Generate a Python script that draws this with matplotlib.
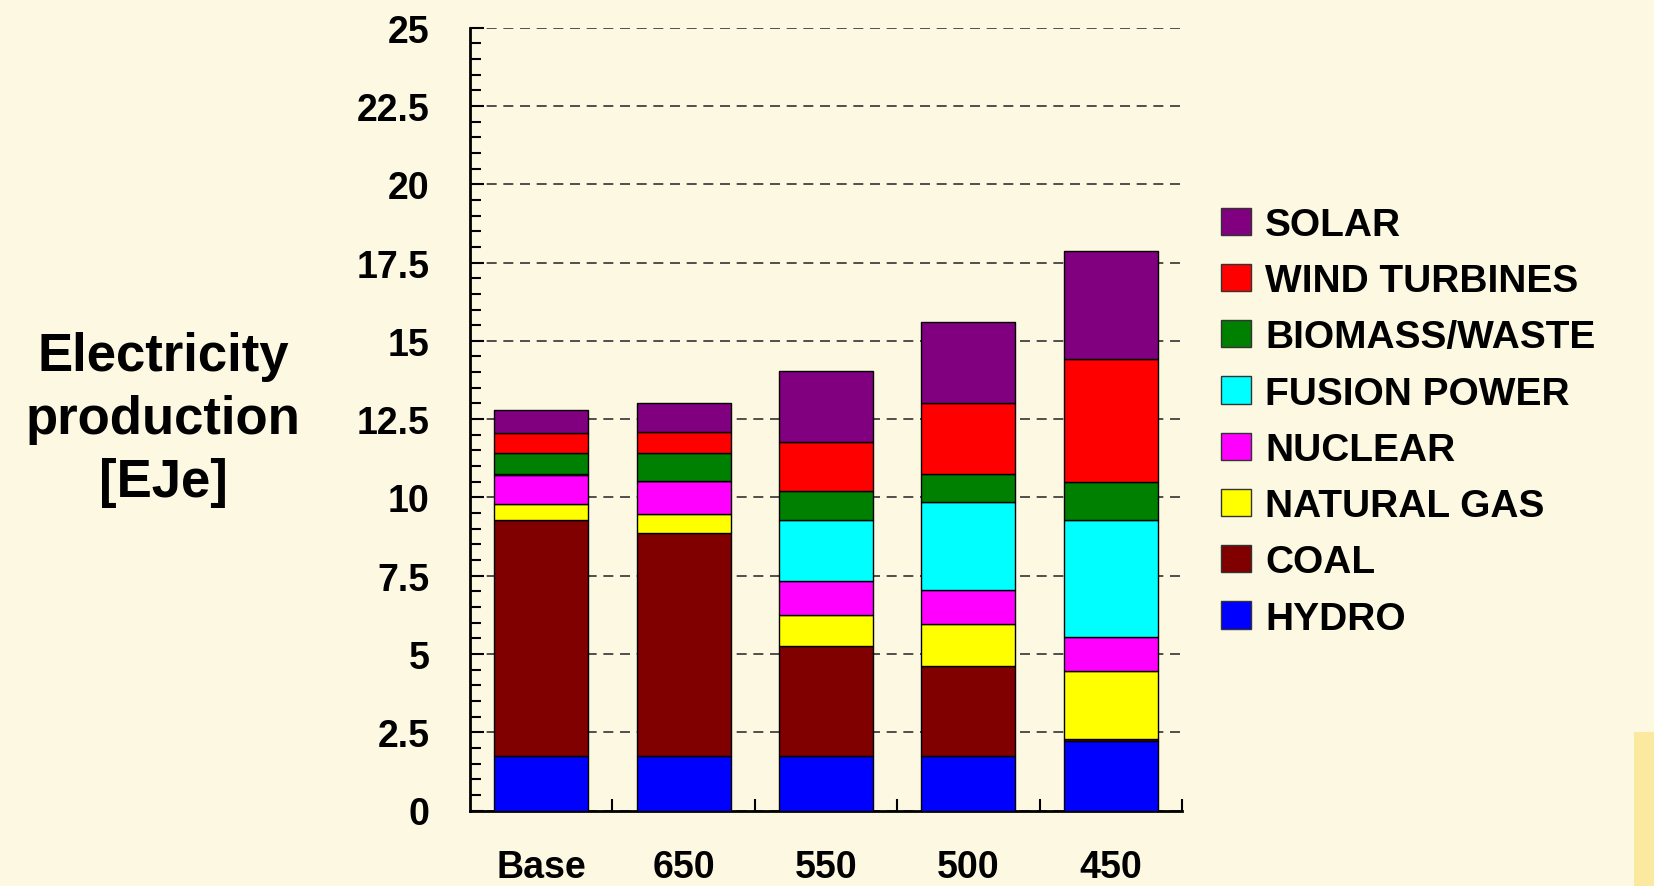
import matplotlib
matplotlib.use("Agg")
import matplotlib.pyplot as plt
from matplotlib.patches import Rectangle, Patch
from matplotlib.ticker import MultipleLocator
import numpy as np

# scenarios and stacked values (EJe), bottom to top
scenarios = ["Base", "650", "550", "500", "450"]
hydro = [1.75, 1.75, 1.75, 1.75, 2.22]
coal = [7.54, 7.10, 3.50, 2.88, 0.06]
natural_gas = [0.51, 0.61, 1.00, 1.34, 2.17]
nuclear = [0.90, 1.07, 1.07, 1.08, 1.08]
fusion = [0.05, 0.00, 1.97, 2.80, 3.76]
biomass = [0.68, 0.90, 0.90, 0.91, 1.19]
wind = [0.62, 0.67, 1.58, 2.25, 3.95]
solar = [0.73, 0.91, 2.26, 2.59, 3.43]

series = [
    ("HYDRO", hydro, "#0000FF"),
    ("COAL", coal, "#800000"),
    ("NATURAL GAS", natural_gas, "#FFFF00"),
    ("NUCLEAR", nuclear, "#FF00FF"),
    ("FUSION POWER", fusion, "#00FFFF"),
    ("BIOMASS/WASTE", biomass, "#008000"),
    ("WIND TURBINES", wind, "#FF0000"),
    ("SOLAR", solar, "#800080"),
]

bg = "#FDF8E2"
plt.rcParams["font.family"] = ["Liberation Sans", "DejaVu Sans"]
plt.rcParams["font.weight"] = "bold"

W, H = 1654, 887
fig = plt.figure(figsize=(W / 100, H / 100), dpi=100, facecolor=bg)
ax = fig.add_axes([470 / W, 1 - 811.5 / H, (1182 - 470) / W, (811.5 - 28.7) / H])
ax.set_facecolor(bg)

x = np.arange(len(scenarios))
bottom = np.zeros(len(scenarios))
for name, vals, col in series:
    ax.bar(x, vals, width=0.66, bottom=bottom, color=col, edgecolor="black",
           linewidth=1, zorder=3)
    bottom += np.array(vals)

ax.set_xlim(-0.5, 4.5)
ax.set_ylim(0, 25)

# dashed gridlines
ax.yaxis.set_major_locator(MultipleLocator(2.5))
ax.yaxis.set_minor_locator(MultipleLocator(0.5))
ax.grid(axis="y", which="major", linestyle=(0, (6, 4)), color="#333333",
        linewidth=1.2, zorder=1)
ax.set_axisbelow(True)

ax.set_yticks(np.arange(0, 25.1, 2.5))
ax.set_yticklabels(["0", "2.5", "5", "7.5", "10", "12.5", "15", "17.5",
                    "20", "22.5", "25"])
ax.tick_params(axis="y", which="major", direction="in", length=10, width=1.5,
               labelsize=27, pad=29)
ax.tick_params(axis="y", which="minor", direction="in", length=8, width=1.5)

ax.set_xticks(x)
ax.set_xticklabels(scenarios)
ax.set_xticks(np.arange(0.5, 5, 1), minor=True)
ax.tick_params(axis="x", which="major", length=0, labelsize=27, pad=28)
ax.tick_params(axis="x", which="minor", direction="in", length=9, width=1.5)

for s in ["top", "right"]:
    ax.spines[s].set_visible(False)
for s in ["left", "bottom"]:
    ax.spines[s].set_linewidth(2)

fig.text(163 / W, 1 - 420 / H, "Electricity\nproduction\n[EJe]", ha="center",
         va="center", fontsize=38, fontweight="bold", linespacing=1.33)

handles = [Patch(facecolor=col, edgecolor="#333333", linewidth=1, label=name)
           for name, vals, col in series[::-1]]
fig.legend(handles=handles, loc="upper left",
           bbox_to_anchor=(1221 / W, 1 - 208 / H), frameon=False,
           fontsize=28, handlelength=0.77, handleheight=0.7,
           handletextpad=0.37, labelspacing=0.52, borderpad=0,
           borderaxespad=0)

# yellow strip at lower right
fig.add_artist(Rectangle((1634 / W, 0), 20 / W, (887 - 733) / H,
                         transform=fig.transFigure, facecolor="#FAE99E",
                         edgecolor="none"))

fig.savefig("out.png", dpi=100, facecolor=bg)
